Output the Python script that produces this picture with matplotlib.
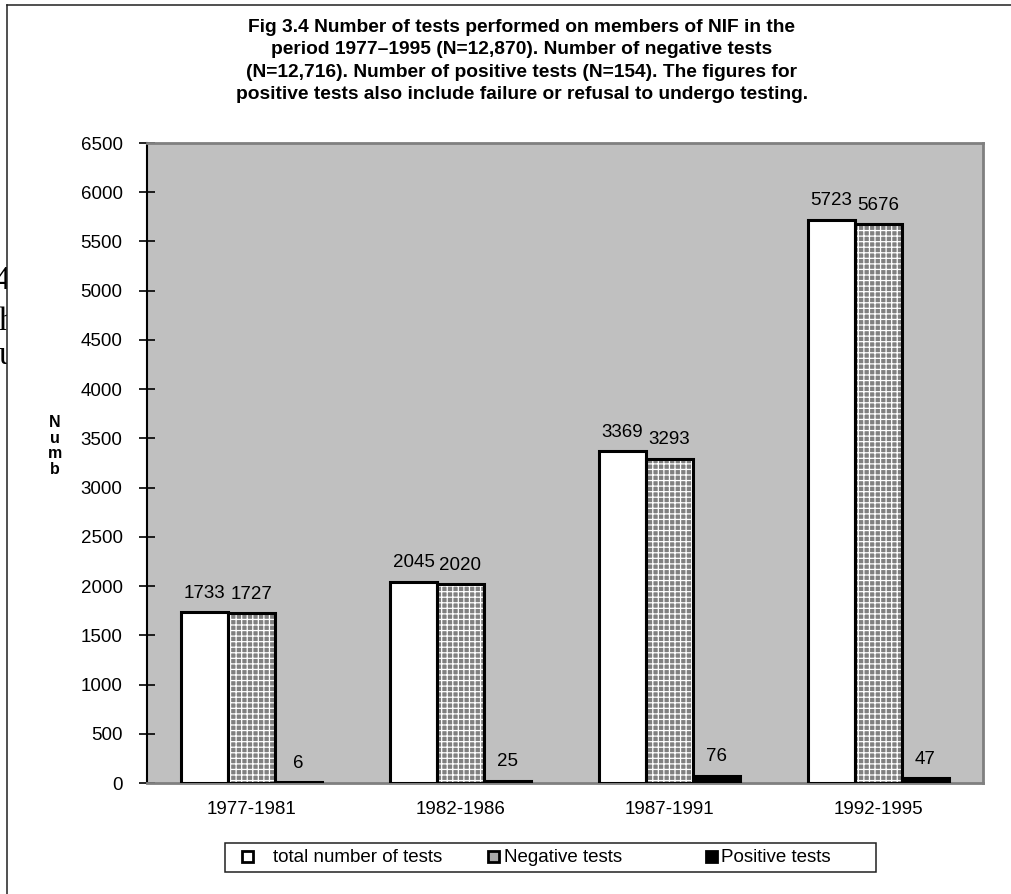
import matplotlib.pyplot as plt
from matplotlib.patches import Rectangle
import numpy as np

plt.rcParams['font.family'] = ['Liberation Sans', 'DejaVu Sans']
plt.rcParams['hatch.color'] = 'white'
plt.rcParams['hatch.linewidth'] = 0.9

periods = ['1977-1981', '1982-1986', '1987-1991', '1992-1995']
total = [1733, 2045, 3369, 5723]
negative = [1727, 2020, 3293, 5676]
positive = [6, 25, 76, 47]
series_names = ['total number of tests', 'Negative tests', 'Positive tests']
yticks = list(range(0, 6501, 500))

title = ('Fig 3.4 Number of tests performed on members of NIF in the\n'
         'period 1977\u20131995 (N=12,870). Number of negative tests\n'
         '(N=12,716). Number of positive tests (N=154). The figures for\n'
         'positive tests also include failure or refusal to undergo testing.')

W, H = 1012, 894
fig = plt.figure(figsize=(W / 100, H / 100), dpi=100)

# main plot area
ax = fig.add_axes([147 / W, 111 / H, 836 / W, 640 / H])
ax.set_facecolor('#c0c0c0')
x = np.arange(len(periods))
w = 0.225

ax.bar(x - w, total, w, color='white', edgecolor='black', linewidth=2.2, zorder=3)
ax.bar(x, negative, w, color='#808080', edgecolor='white', linewidth=0,
       hatch='+++', zorder=3)
ax.bar(x, negative, w, fill=False, edgecolor='black', linewidth=2.2, zorder=4)
ax.bar(x + w, positive, w, color='black', edgecolor='black', linewidth=2.2, zorder=3)

for offs, vals in [(-w, total), (0, negative), (w, positive)]:
    for xi, v in zip(x, vals):
        ax.annotate(str(v), (xi + offs, v), xytext=(0, 7.5), textcoords='offset points',
                    ha='center', va='bottom', fontsize=13.5, zorder=5)

ax.set_xlim(-0.5, len(periods) - 0.5)
ax.set_ylim(0, 6500)
ax.set_yticks(yticks)
ax.set_xticks(x, periods)
ax.tick_params(axis='y', direction='inout', length=12, width=1.2, pad=11.5,
               labelsize=13.5)
ax.tick_params(axis='x', length=0, pad=13, labelsize=13.5)
ax.spines['left'].set_color('black')
ax.spines['left'].set_linewidth(1.5)
for s in ['top', 'right', 'bottom']:
    ax.spines[s].set_color('#808080')
    ax.spines[s].set_linewidth(2)

fig.text(522 / W, 1 - 19 / H, title, ha='center', va='top', fontsize=13.8,
         fontweight='bold', linespacing=1.42)
fig.text(55 / W, 1 - 446 / H, 'N\nu\nm\nb', ha='center', va='center',
         fontsize=11.5, fontweight='bold', linespacing=1.05)

# overlay in pixel coordinates for the page frame and legend
ov = fig.add_axes([0, 0, 1, 1], zorder=10)
ov.set_xlim(0, W)
ov.set_ylim(H, 0)
ov.axis('off')
ov.plot([7.5, 7.5], [5, H], color='#202020', lw=1.1)
ov.plot([7.5, W], [5, 5], color='#202020', lw=1.1)

ov.add_patch(Rectangle((225, 843), 651, 29, facecolor='white', edgecolor='#202020', lw=1.1))
ov.add_patch(Rectangle((242, 851), 11, 11, facecolor='white', edgecolor='black', lw=2))
ov.text(273, 857, series_names[0], ha='left', va='center', fontsize=13.5)
ov.add_patch(Rectangle((488, 851), 11, 11, facecolor='#a8a8a8', edgecolor='black', lw=2))
ov.text(504, 857, series_names[1], ha='left', va='center', fontsize=13.5)
ov.add_patch(Rectangle((706, 851), 11, 11, facecolor='black', edgecolor='black', lw=2))
ov.text(721, 857, series_names[2], ha='left', va='center', fontsize=13.5)

# clipped letters from the page behind the chart
art = fig.add_axes([0, 0, 7.5 / W, 1])
art.set_xlim(0, 7.5)
art.set_ylim(H, 0)
art.axis('off')
for ch, px, py, ha in [('4', 10, 289, 'right'), ('h', -1, 330, 'left'), ('u', -1, 364, 'left')]:
    art.text(px, py, ch, ha=ha, va='baseline', fontsize=24,
             family='Liberation Serif', clip_on=True)

fig.savefig('out.png', dpi=100)
